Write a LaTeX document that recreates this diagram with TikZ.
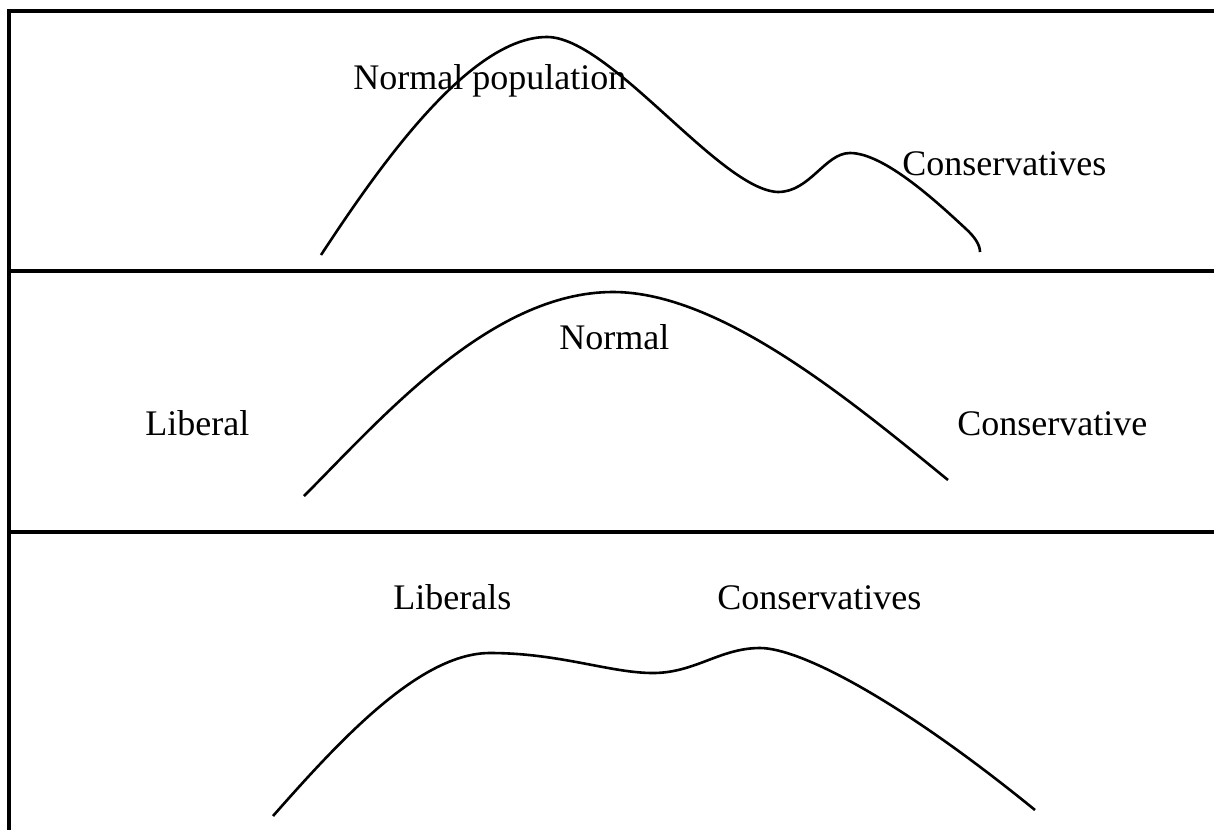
\documentclass[tikz,border=0pt]{standalone}
\IfFileExists{pplr8t.tfm}{%
  \usepackage[T1]{fontenc}\renewcommand\rmdefault{ppl}%
}{%
  \usepackage{fontspec}\setmainfont{Liberation Serif}%
}
\usetikzlibrary{positioning}

\begin{document}
\begin{tikzpicture}[
    x=0.5pt, y=-0.5pt,
    frame/.style={line width=1.6pt},
    curve/.style={line width=1.3pt},
    label/.style={anchor=base west, inner sep=0pt, font=\fontsize{18}{22}\selectfont}
]
\useasboundingbox (0,0) rectangle (1214,830);

% === FRAME ===
\draw[frame] (9,830) -- (9,11) -- (1214,11);
\draw[frame] (9,271) -- (1214,271);
\draw[frame] (9,532) -- (1214,532);

% === TOP: skewed curve ===
\draw[curve] (321,255) .. controls (380,165) and (470,37) .. (547,37)
    .. controls (610,37) and (720,190) .. (778,192)
    .. controls (810,192) and (825,153) .. (850,153)
    .. controls (885,153) and (940,205) .. (965,228)
    .. controls (975,237) and (980,245) .. (980,252);
\node[label] (normpop) at (353,89) {Normal population};
\node[label] (consA) at (902,175) {Conservatives};

% === MIDDLE: normal curve ===
\draw[curve] (304,496) .. controls (380,420) and (490,292) .. (613,292)
    .. controls (720,292) and (850,400) .. (948,480);
\node[label] (liberal) at (145,435) {Liberal};
\node[label] (normal) at (559,349) {Normal};
\node[label] (consB) at (957,435) {Conservative};

% === BOTTOM: bimodal curve ===
\draw[curve] (273,816) .. controls (340,740) and (420,653) .. (490,653)
    .. controls (560,653) and (610,673) .. (653,673)
    .. controls (695,673) and (720,648) .. (760,648)
    .. controls (800,648) and (900,700) .. (1035,810);
\node[label] (liberals) at (393,609) {Liberals};
\node[label] (consC) at (717,609) {Conservatives};

\end{tikzpicture}
\end{document}
